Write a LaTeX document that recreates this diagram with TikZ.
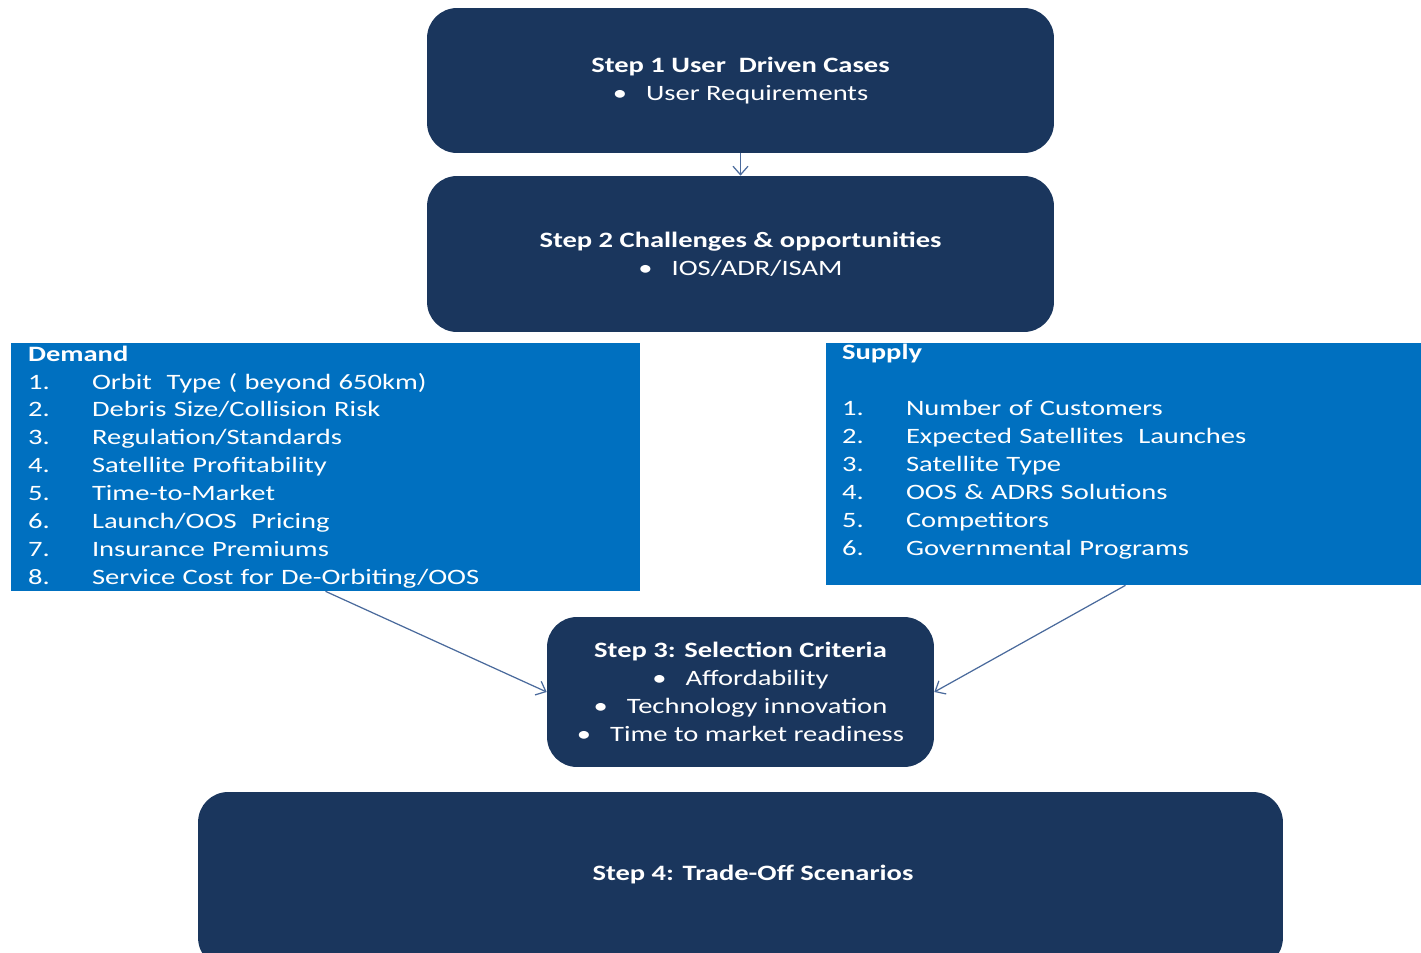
\documentclass[tikz,border=0pt]{standalone}
\usepackage{fontspec}
\setmainfont{Carlito}[FakeStretch=1.3]
\usetikzlibrary{arrows.meta}
\definecolor{navy}{HTML}{1A365D}
\definecolor{brightblue}{HTML}{0070C0}
\definecolor{linkblue}{HTML}{4A6A9C}
\newcommand{\boxfont}{\fontsize{12.5}{15.9}\selectfont}
\newcommand{\bul}{\textbullet\hspace{0.38cm}}
\begin{document}
\begin{tikzpicture}[x=0.02cm,y=-0.02cm,
  stepbox/.style={fill=navy, rounded corners=0.6cm, text=white,
    font=\boxfont, align=center, inner sep=0pt},
  listbox/.style={fill=brightblue, text=white, font=\boxfont,
    align=left, inner ysep=0pt},
  link/.style={draw=linkblue, line width=0.7pt,
    -{Straight Barb[length=0.17cm,width=0.3cm]}},
]
\useasboundingbox (0,0) rectangle (1421,953);
\clip (0,0) rectangle (1421,953);

% process steps
\node[stepbox, minimum width=12.54cm, minimum height=2.9cm] (s1) at (740.5,80.5)
  {\textbf{Step 1 User~ Driven Cases}\\ \bul User Requirements};
\node[stepbox, minimum width=12.54cm, minimum height=3.12cm] (s2) at (740.5,254)
  {\textbf{Step 2 Challenges \& opportunities}\\ \bul IOS/ADR/ISAM};

% demand and supply factors
\node[listbox, inner xsep=0.34cm, text width=11.9cm, minimum height=4.96cm] (demand) at (325.5,467)
  {\textbf{Demand}\\
   \makebox[1.28cm][l]{1.}Orbit~ Type ( beyond 650km)\\
   \makebox[1.28cm][l]{2.}Debris Size/Collision Risk\\
   \makebox[1.28cm][l]{3.}Regulation/Standards\\
   \makebox[1.28cm][l]{4.}Satellite Profitability\\
   \makebox[1.28cm][l]{5.}Time-to-Market\\
   \makebox[1.28cm][l]{6.}Launch/OOS~ Pricing\\
   \makebox[1.28cm][l]{7.}Insurance Premiums\\
   \makebox[1.28cm][l]{8.}Service Cost for De-Orbiting/OOS};
\node[listbox, inner xsep=0.32cm, text width=11.34cm, minimum height=4.84cm] (supply) at (1125.5,464)
  {\textbf{Supply}\\
   \mbox{}\\
   \makebox[1.28cm][l]{1.}Number of Customers\\
   \makebox[1.28cm][l]{2.}Expected Satellites~ Launches\\
   \makebox[1.28cm][l]{3.}Satellite Type\\
   \makebox[1.28cm][l]{4.}OOS \& ADRS Solutions\\
   \makebox[1.28cm][l]{5.}Competitors\\
   \makebox[1.28cm][l]{6.}Governmental Programs\\
   \mbox{}};

\node[stepbox, minimum width=7.74cm, minimum height=3cm] (s3) at (740.5,692)
  {\textbf{Step 3: Selection Criteria}\\ \bul Affordability\\
   \bul Technology innovation\\ \bul Time to market readiness};

\node[stepbox, minimum width=21.7cm, minimum height=3.52cm,
  label={[text=white, font=\boxfont\bfseries, xshift=0.25cm, yshift=0.1cm]center:Step 4: Trade-Off Scenarios}]
  (s4) at (740.5,880) {};

% connectors
\draw[link] (s1.south) -- (s2.north);
\draw[link] (demand.south) -- (s3.west);
\draw[link] (supply.south) -- (s3.east);
\end{tikzpicture}
\end{document}
